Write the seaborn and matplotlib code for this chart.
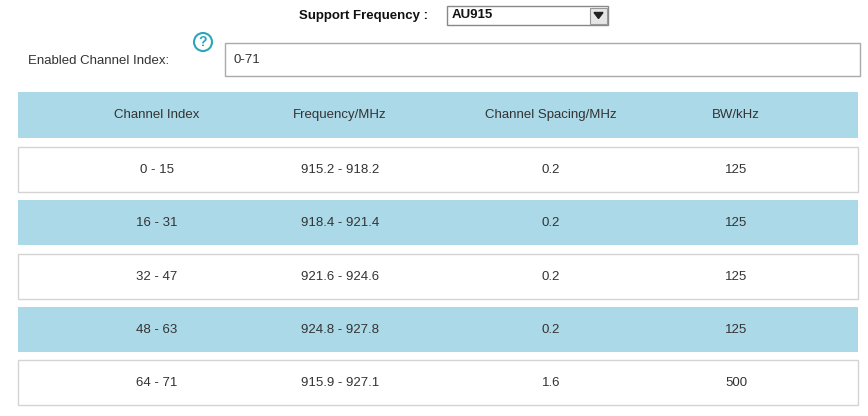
import matplotlib
matplotlib.use("Agg")
import matplotlib.pyplot as plt
import seaborn as sns
from matplotlib.patches import Rectangle, Circle

sns.set_theme(style="white")
plt.rcParams['font.family'] = ['Liberation Sans', 'DejaVu Sans']

headers = ["Channel Index", "Frequency/MHz", "Channel Spacing/MHz", "BW/kHz"]
channel_index = ["0 - 15", "16 - 31", "32 - 47", "48 - 63", "64 - 71"]
frequency = ["915.2 - 918.2", "918.4 - 921.4", "921.6 - 924.6", "924.8 - 927.8", "915.9 - 927.1"]
spacing = ["0.2", "0.2", "0.2", "0.2", "1.6"]
bandwidth = ["125", "125", "125", "125", "500"]
support_freq = "AU915"
enabled_idx = "0-71"

W, H = 868, 416
fig = plt.figure(figsize=(W/100, H/100), dpi=100)
ax = fig.add_axes([0, 0, 1, 1])
ax.set_xlim(0, W); ax.set_ylim(H, 0); ax.axis("off")

blue = "#abd9e8"
txt = "#333333"
fs = 9.5

# top controls
ax.text(428, 16, "Support Frequency :", ha="right", va="center", fontsize=fs, fontweight="bold", color="#111")
ax.add_patch(Rectangle((447, 6), 161, 19, fc="white", ec="#888", lw=1))
ax.text(452, 15.5, support_freq, ha="left", va="center", fontsize=fs, fontweight="bold", color="#111")
ax.add_patch(Rectangle((590, 7.5), 16.5, 16, fc="#e6e6e6", ec="#999", lw=0.8))
ax.fill([594, 603, 598.5], [12.5, 12.5, 18.5], color="#222")

ax.add_patch(Circle((203, 42), 9, fc="white", ec="#2aa7b8", lw=1.5))
ax.text(203, 42.5, "?", ha="center", va="center", fontsize=10, color="#2aa7b8", fontweight="bold")
ax.text(28, 61, "Enabled Channel Index:", ha="left", va="center", fontsize=fs, color=txt)
ax.add_patch(Rectangle((225, 43), 635, 33, fc="white", ec="#aaa", lw=1))
ax.text(233, 60, enabled_idx, ha="left", va="center", fontsize=fs, color=txt)

# table
xs = [157, 340, 551, 736]
x0, x1 = 18, 858
ax.add_patch(Rectangle((x0, 92), x1-x0, 46, fc=blue, ec="none"))
for x, h in zip(xs, headers):
    ax.text(x, 115, h, ha="center", va="center", fontsize=fs, color=txt)

rows = list(zip(channel_index, frequency, spacing, bandwidth))
for i, r in enumerate(rows):
    top = 147 + i*53.3
    if i % 2 == 1:
        ax.add_patch(Rectangle((x0, top), x1-x0, 45, fc=blue, ec="none"))
    else:
        ax.add_patch(Rectangle((x0, top), x1-x0, 45, fc="white", ec="#d4d4d4", lw=1))
    for x, v in zip(xs, r):
        ax.text(x, top+23, v, ha="center", va="center", fontsize=fs, color=txt)

fig.savefig("out.png", dpi=100)
